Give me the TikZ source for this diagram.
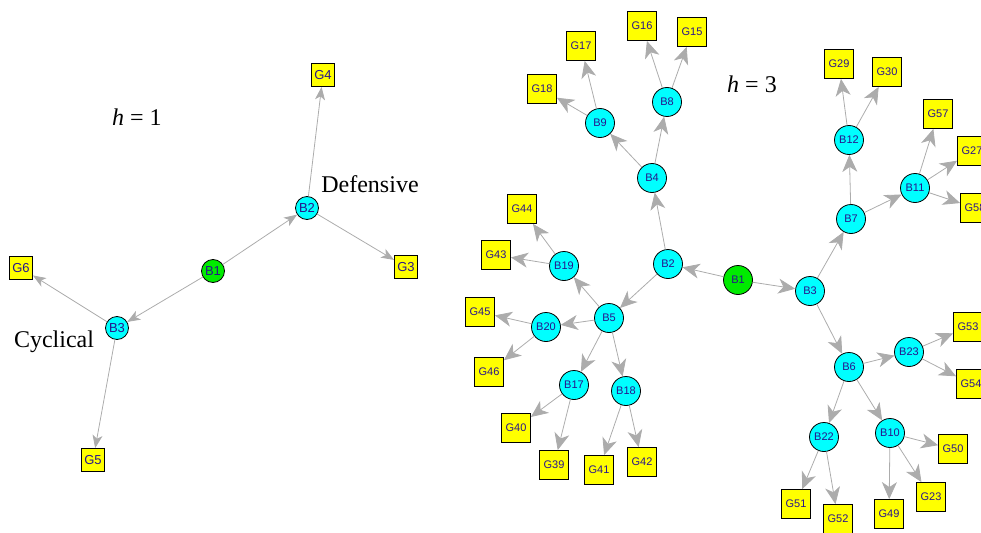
\documentclass[tikz,border=0pt]{standalone}
\usepackage{fontspec}
\usepackage{tikz}
\usetikzlibrary{arrows.meta,shapes}
\newfontfamily\labelfont{Liberation Sans}
\newfontfamily\titlefont{Liberation Serif}
\definecolor{bankcyan}{RGB}{0,255,255}
\definecolor{rootgreen}{RGB}{0,235,0}
\definecolor{goodyellow}{RGB}{255,255,0}
\definecolor{labelblue}{RGB}{40,20,140}
\definecolor{edgegrey}{RGB}{172,172,172}
% small graph (h = 1)
\tikzstyle{bank}=[circle,draw=black,line width=0.8pt,fill=bankcyan,minimum size=23pt,inner sep=0pt,text=labelblue,font=\labelfont\fontsize{13}{13}\selectfont]
\tikzstyle{good}=[rectangle,draw=black,line width=0.8pt,fill=goodyellow,minimum size=23pt,inner sep=0pt,text=labelblue,font=\labelfont\fontsize{13}{13}\selectfont]
\tikzstyle{edge} = [draw,edgegrey,line width=0.8pt,-{Stealth[length=13pt,width=10pt,inset=3.5pt]}]
% large graph (h = 3)
\tikzstyle{bigbank}=[bank,minimum size=29pt,font=\labelfont\fontsize{11}{11}\selectfont]
\tikzstyle{biggood}=[good,minimum size=29pt,font=\labelfont\fontsize{11}{11}\selectfont]
\tikzstyle{bigedge} = [draw,edgegrey,line width=0.8pt,-{Stealth[length=17pt,width=15pt,inset=5pt]}]
\tikzstyle{caption}=[anchor=base,inner sep=0pt,font=\titlefont\fontsize{24}{24}\selectfont]

\begin{document}
\begin{tikzpicture}[x=1pt,y=-1pt]
    \useasboundingbox (0,0) rectangle (981,532);
    % Draw the h = 1 network
    % First the vertices
    \node[bank,fill=rootgreen] (aB1) at (213,271) {B1};
    \foreach \pos/\name in {{(307,208)/B2}, {(117,328)/B3}}
        \node[bank] (a\name) at \pos {\name};
    \foreach \pos/\name in {{(323,75)/G4}, {(406,267)/G3}, {(21,268)/G6}, {(93,460)/G5}}
        \node[good] (a\name) at \pos {\name};
    % Connect vertices with edges
    \foreach \source/ \dest in {B1/B2, B1/B3, B2/G4, B2/G3, B3/G6, B3/G5}
        \path[edge] (a\source) -- (a\dest) ;
    \node[caption] (hone) at (137,125) {\textit{h} = 1};
    \node[caption] (defensive) at (370,192) {Defensive};
    \node[caption] (cyclical) at (54,347) {Cyclical};

    % Draw the h = 3 network
    \node[bigbank,fill=rootgreen] (bB1) at (738,280) {B1};
    \foreach \pos/\name in {{(668,264)/B2}, {(810,291)/B3}, {(652,178)/B4}, {(609,318)/B5},
        {(849,367)/B6}, {(851,219)/B7}, {(667,102)/B8}, {(600,123)/B9}, {(890,433)/B10},
        {(915,188)/B11}, {(849,140)/B12}, {(574,385)/B17}, {(626,391)/B18}, {(564,266)/B19},
        {(546,327)/B20}, {(824,437)/B22}, {(909,352)/B23}}
        \node[bigbank] (b\name) at \pos {\name};
    \foreach \pos/\name in {{(642,26)/G16}, {(692,32)/G15}, {(581,46)/G17}, {(542,89)/G18},
        {(522,209)/G44}, {(496,255)/G43}, {(480,312)/G45}, {(489,372)/G46},
        {(516,428)/G40}, {(554,465)/G39}, {(599,470)/G41}, {(642,462)/G42},
        {(839,64)/G29}, {(887,72)/G30}, {(938,114)/G57}, {(972,151)/G27}, {(975,208)/G58},
        {(968,327)/G53}, {(971,384)/G54}, {(953,449)/G50}, {(931,497)/G23},
        {(889,514)/G49}, {(796,504)/G51}, {(838,519)/G52}}
        \node[biggood] (b\name) at \pos {\name};
    % Connect vertices with edges
    \foreach \source/ \dest in {B1/B2, B1/B3, B2/B4, B2/B5, B3/B7, B3/B6,
        B4/B8, B4/B9, B8/G16, B8/G15, B9/G17, B9/G18,
        B5/B19, B5/B20, B5/B17, B5/B18, B19/G44, B19/G43, B20/G45, B20/G46,
        B17/G40, B17/G39, B18/G41, B18/G42,
        B7/B12, B7/B11, B12/G29, B12/G30, B11/G57, B11/G27, B11/G58,
        B6/B23, B6/B22, B6/B10, B23/G53, B23/G54, B22/G51, B22/G52,
        B10/G50, B10/G23, B10/G49}
        \path[bigedge] (b\source) -- (b\dest) ;
    \node[caption] (hthree) at (752,93) {\textit{h} = 3};
\end{tikzpicture}
\end{document}
